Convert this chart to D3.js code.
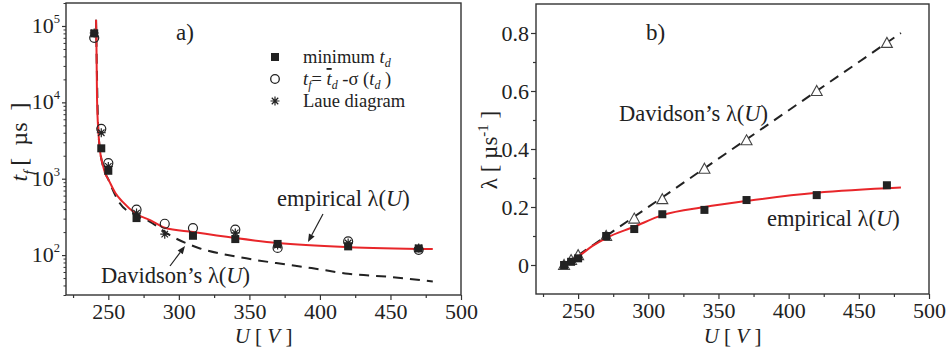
<!DOCTYPE html>
<html><head><meta charset="utf-8">
<script src="https://cdn.jsdelivr.net/npm/d3@7"></script>
<style>
body{margin:0;background:#fff}
text{font-family:"Liberation Serif","Times New Roman",serif;fill:#222}
</style>
</head><body><svg id="c" width="947" height="351"></svg>
<script>
// ---------- data ----------
const voltages = [240,245,250,270,290,310,340,370,420,470];
// panel a: t_f [µs]
const minTd          = [80000,2500,1270,305,null,179,162,140,130,122];
const meanMinusSigma = [70000,4500,1600,393,257,226,215,124,151,117];
const laueDiagram    = [81000,4000,1450,355,188,null,195,135,144,124];
const empCurveAU = [241.3,241.5,242,243,244,246,248,250,255,260,270,280,290,310,340,370,420,480];
const empCurveAT = [121000,82000,11000,4000,2400,1550,1150,980,650,500,345,285,228,200,167,144,127,120];
const davCurveAU = [241.3,243,246,250,258,270,279,293,314,340,369,394,420,451,480];
const davCurveAT = [121000,4000,1500,980,480,330,277,185,124,96,78.5,67.6,57,51.5,45];
// panel b: lambda [µs^-1]
const lambdaMin = [0,0.011,0.023,0.1,0.124,0.175,0.19,0.224,0.241,0.275];
const lambdaDav = [0,0.017,0.034,0.1,0.16,0.227,0.332,0.43,0.60,0.766];
const empCurveBU = [240.7,245,250,260,270,290,310,340,370,420,480];
const empCurveBL = [0,0.015,0.029,0.065,0.093,0.132,0.172,0.2,0.221,0.249,0.267];
const davLineBU = [240,480];
const davLineBL = [0,0.8];
// ticks
const xTicks = [250,300,350,400,450,500];
const xMinorTicks = [225,275,325,375,425,475];
const yTicksA = [100,1000,10000,100000];
const yTicksAExp = ["2","3","4","5"];
const yTicksB = [0,0.2,0.4,0.6,0.8];
const yMinorB = [0.1,0.3,0.5,0.7];

// ---------- setup ----------
const svg = d3.select("#c");
const RED = "#e8262a", INK = "#222", AX = "#333";
const TICKF = 22, ANNF = 22.5;

function rich(sel, parts, size, subShift){
  let shift = 0;
  const ss = subShift==null ? 0.3 : subShift;
  parts.forEach(p=>{
    const ts = sel.append("tspan").text(p.t);
    const target = p.sub ? ss*size : (p.sup ? -0.4*size : 0);
    ts.attr("dy", target-shift); shift = target;
    if(p.sub||p.sup) ts.attr("font-size", size*0.65);
    if(p.i) ts.attr("font-style","italic");
    if(p.o) ts.style("text-decoration","overline");
  });
}

function frameAndXAxis(g, x, yTop, yBot){
  const ax = g.append("g").attr("transform",`translate(0,${yBot})`)
    .call(d3.axisBottom(x).tickValues(xTicks).tickSize(5).tickSizeOuter(0).tickPadding(3));
  ax.select(".domain").remove();
  ax.selectAll("line").attr("stroke",AX).attr("stroke-width",1.2);
  ax.selectAll("text").attr("font-size",TICKF).attr("fill",INK);
  const mi = g.append("g").attr("transform",`translate(0,${yBot})`)
    .call(d3.axisBottom(x).tickValues(xMinorTicks).tickSize(3).tickSizeOuter(0).tickFormat(""));
  mi.select(".domain").remove();
  mi.selectAll("line").attr("stroke",AX).attr("stroke-width",1.2);
  g.append("rect").attr("x",x.range()[0]).attr("y",yTop)
    .attr("width",x.range()[1]-x.range()[0]).attr("height",yBot-yTop)
    .attr("fill","none").attr("stroke",AX).attr("stroke-width",1.4);
  const t = g.append("text").attr("x",(x.range()[0]+x.range()[1])/2).attr("y",343)
    .attr("text-anchor","middle").attr("font-size",21);
  rich(t,[{t:"U",i:1},{t:" [ "},{t:"V",i:1},{t:" ]"}],21);
}

function arrow(g, x1,y1,x2,y2){
  const ang = Math.atan2(y2-y1,x2-x1), L=8, W=3.2;
  const bx = x2-L*Math.cos(ang), by = y2-L*Math.sin(ang);
  g.append("line").attr("x1",x1).attr("y1",y1).attr("x2",bx).attr("y2",by)
    .attr("stroke",INK).attr("stroke-width",1.2);
  g.append("path").attr("d",`M${x2},${y2}L${bx-W*Math.sin(ang)},${by+W*Math.cos(ang)}L${bx+W*Math.sin(ang)},${by-W*Math.cos(ang)}Z`)
    .attr("fill",INK);
}

function star(g, cx, cy, r){
  const d = [[0,-r,0,r],[-r,0,r,0],[-r*0.72,-r*0.72,r*0.72,r*0.72],[-r*0.72,r*0.72,r*0.72,-r*0.72]]
    .map(s=>`M${cx+s[0]},${cy+s[1]}L${cx+s[2]},${cy+s[3]}`).join("");
  g.append("path").attr("d",d).attr("stroke",INK).attr("stroke-width",1.2).attr("fill","none");
}

// ---------- panel a ----------
const xA = d3.scaleLinear().domain([220,500]).range([66,461]);
const yA = d3.scaleLog().domain([30,2e5]).range([295,3]);
const ga = svg.append("g");
frameAndXAxis(ga, xA, 3, 295);

const minorA = [];
[10,100,1000,10000,100000].forEach(d=>{for(let k=2;k<=9;k++){const v=k*d; if(v>=30&&v<=2e5) minorA.push(v);}});
const yaxA = ga.append("g").attr("transform","translate(66,0)")
  .call(d3.axisLeft(yA).tickValues(yTicksA).tickSize(4).tickSizeOuter(0).tickFormat(""));
yaxA.select(".domain").remove();
yaxA.selectAll("line").attr("stroke",AX).attr("stroke-width",1.2);
const ymA = ga.append("g").attr("transform","translate(66,0)")
  .call(d3.axisLeft(yA).tickValues(minorA).tickSize(2.5).tickSizeOuter(0).tickFormat(""));
ymA.select(".domain").remove();
ymA.selectAll("line").attr("stroke",AX).attr("stroke-width",1);
yTicksA.forEach((v,i)=>{
  const t = ga.append("text").attr("x",60).attr("y",yA(v)+7).attr("text-anchor","end").attr("font-size",TICKF);
  t.append("tspan").text("10");
  t.append("tspan").text(yTicksAExp[i]).attr("font-size",12.5).attr("dy",-10);
});
const ytA = ga.append("text").attr("transform","translate(27,142) rotate(-90)")
  .attr("text-anchor","middle").attr("font-size",24);
rich(ytA,[{t:"t",i:1},{t:"f",i:1,sub:1},{t:"\u2009[\u2002µs\u2002]"}],24);

const lineA = d3.line().x(d=>xA(d[0])).y(d=>yA(d[1])).curve(d3.curveMonotoneX);
ga.append("path").datum(davCurveAU.map((u,i)=>[u,davCurveAT[i]]))
  .attr("d",lineA).attr("fill","none").attr("stroke",INK).attr("stroke-width",2)
  .attr("stroke-dasharray","10,7");
ga.append("path").datum(empCurveAU.map((u,i)=>[u,empCurveAT[i]]))
  .attr("d",lineA).attr("fill","none").attr("stroke",RED).attr("stroke-width",2);

voltages.forEach((u,i)=>{
  if(minTd[i]!=null) ga.append("rect").attr("x",xA(u)-4).attr("y",yA(minTd[i])-4)
    .attr("width",8).attr("height",8).attr("fill",INK);
});
voltages.forEach((u,i)=>{
  if(laueDiagram[i]!=null) star(ga, xA(u), yA(laueDiagram[i]), 4.5);
});
voltages.forEach((u,i)=>{
  if(meanMinusSigma[i]!=null) ga.append("circle").attr("cx",xA(u)).attr("cy",yA(meanMinusSigma[i]))
    .attr("r",4.5).attr("fill","none").attr("stroke",INK).attr("stroke-width",1.2);
});

// legend
ga.append("rect").attr("x",271).attr("y",53).attr("width",8).attr("height",8).attr("fill",INK);
ga.append("circle").attr("cx",275).attr("cy",79).attr("r",4.3).attr("fill","none").attr("stroke",INK).attr("stroke-width",1.3);
star(ga,275,101,4.5);
const LF = 18.5;
const l1 = ga.append("text").attr("x",303).attr("y",63).attr("font-size",LF);
rich(l1,[{t:"minimum "},{t:"t",i:1},{t:"d",i:1,sub:1}],LF,0.22);
const l2 = ga.append("text").attr("x",303).attr("y",85).attr("font-size",LF);
rich(l2,[{t:"t",i:1},{t:"f",i:1,sub:1},{t:"= "},{t:"t",i:1,o:1},{t:"d",i:1,sub:1},{t:" -σ ("},{t:"t",i:1},{t:"d",i:1,sub:1},{t:" )"}],LF,0.22);
const l3 = ga.append("text").attr("x",303).attr("y",107).attr("font-size",LF);
rich(l3,[{t:"Laue diagram"}],LF);

ga.append("text").attr("x",176).attr("y",40).attr("font-size",23).text("a)");
const eA = ga.append("text").attr("x",277).attr("y",206).attr("font-size",ANNF);
rich(eA,[{t:"empirical λ("},{t:"U",i:1},{t:")"}],ANNF);
const dA = ga.append("text").attr("x",101).attr("y",283).attr("font-size",ANNF);
rich(dA,[{t:"Davidson’s λ("},{t:"U",i:1},{t:")"}],ANNF);
arrow(ga, 323, 214, 308, 242);
arrow(ga, 170, 266, 185, 246);

// ---------- panel b ----------
const xB = d3.scaleLinear().domain([220,500]).range([536,929]);
const yB = d3.scaleLinear().domain([-0.1,0.9]).range([294,4]);
const gb = svg.append("g");
frameAndXAxis(gb, xB, 4, 294);
const yaxB = gb.append("g").attr("transform","translate(536,0)")
  .call(d3.axisLeft(yB).tickValues(yTicksB).tickSize(5).tickSizeOuter(0).tickPadding(2)
  .tickFormat(d=>d===0?"0":d3.format(".1f")(d)));
yaxB.select(".domain").remove();
yaxB.selectAll("line").attr("stroke",AX).attr("stroke-width",1.2);
yaxB.selectAll("text").attr("font-size",TICKF).attr("fill",INK);
const ymB = gb.append("g").attr("transform","translate(536,0)")
  .call(d3.axisLeft(yB).tickValues(yMinorB).tickSize(3).tickSizeOuter(0).tickFormat(""));
ymB.select(".domain").remove();
ymB.selectAll("line").attr("stroke",AX).attr("stroke-width",1.2);
const ytB = gb.append("text").attr("transform","translate(497,150) rotate(-90)")
  .attr("text-anchor","middle").attr("font-size",23);
rich(ytB,[{t:"λ [ µs"},{t:"-1",sup:1},{t:" ]"}],23);

const lineB = d3.line().x(d=>xB(d[0])).y(d=>yB(d[1])).curve(d3.curveMonotoneX);
gb.append("path").datum(davLineBU.map((u,i)=>[u,davLineBL[i]]))
  .attr("d",lineB).attr("fill","none").attr("stroke",INK).attr("stroke-width",2)
  .attr("stroke-dasharray","10,7");
voltages.forEach((u,i)=>{
  const cx=xB(u), cy=yB(lambdaDav[i]);
  gb.append("path").attr("d",`M${cx},${cy-5.5}L${cx+5.5},${cy+4.5}L${cx-5.5},${cy+4.5}Z`)
    .attr("fill","#fff").attr("stroke","#444").attr("stroke-width",1.1);
});
gb.append("path").datum(empCurveBU.map((u,i)=>[u,empCurveBL[i]]))
  .attr("d",lineB).attr("fill","none").attr("stroke",RED).attr("stroke-width",2);
voltages.forEach((u,i)=>{
  gb.append("rect").attr("x",xB(u)-4).attr("y",yB(lambdaMin[i])-4)
    .attr("width",8).attr("height",8).attr("fill",INK);
});
gb.append("text").attr("x",646).attr("y",40).attr("font-size",23).text("b)");
const dB = gb.append("text").attr("x",619).attr("y",121).attr("font-size",ANNF);
rich(dB,[{t:"Davidson’s λ("},{t:"U",i:1},{t:")"}],ANNF);
const eB = gb.append("text").attr("x",767).attr("y",226).attr("font-size",ANNF);
rich(eB,[{t:"empirical λ("},{t:"U",i:1},{t:")"}],ANNF);
</script></body></html>
